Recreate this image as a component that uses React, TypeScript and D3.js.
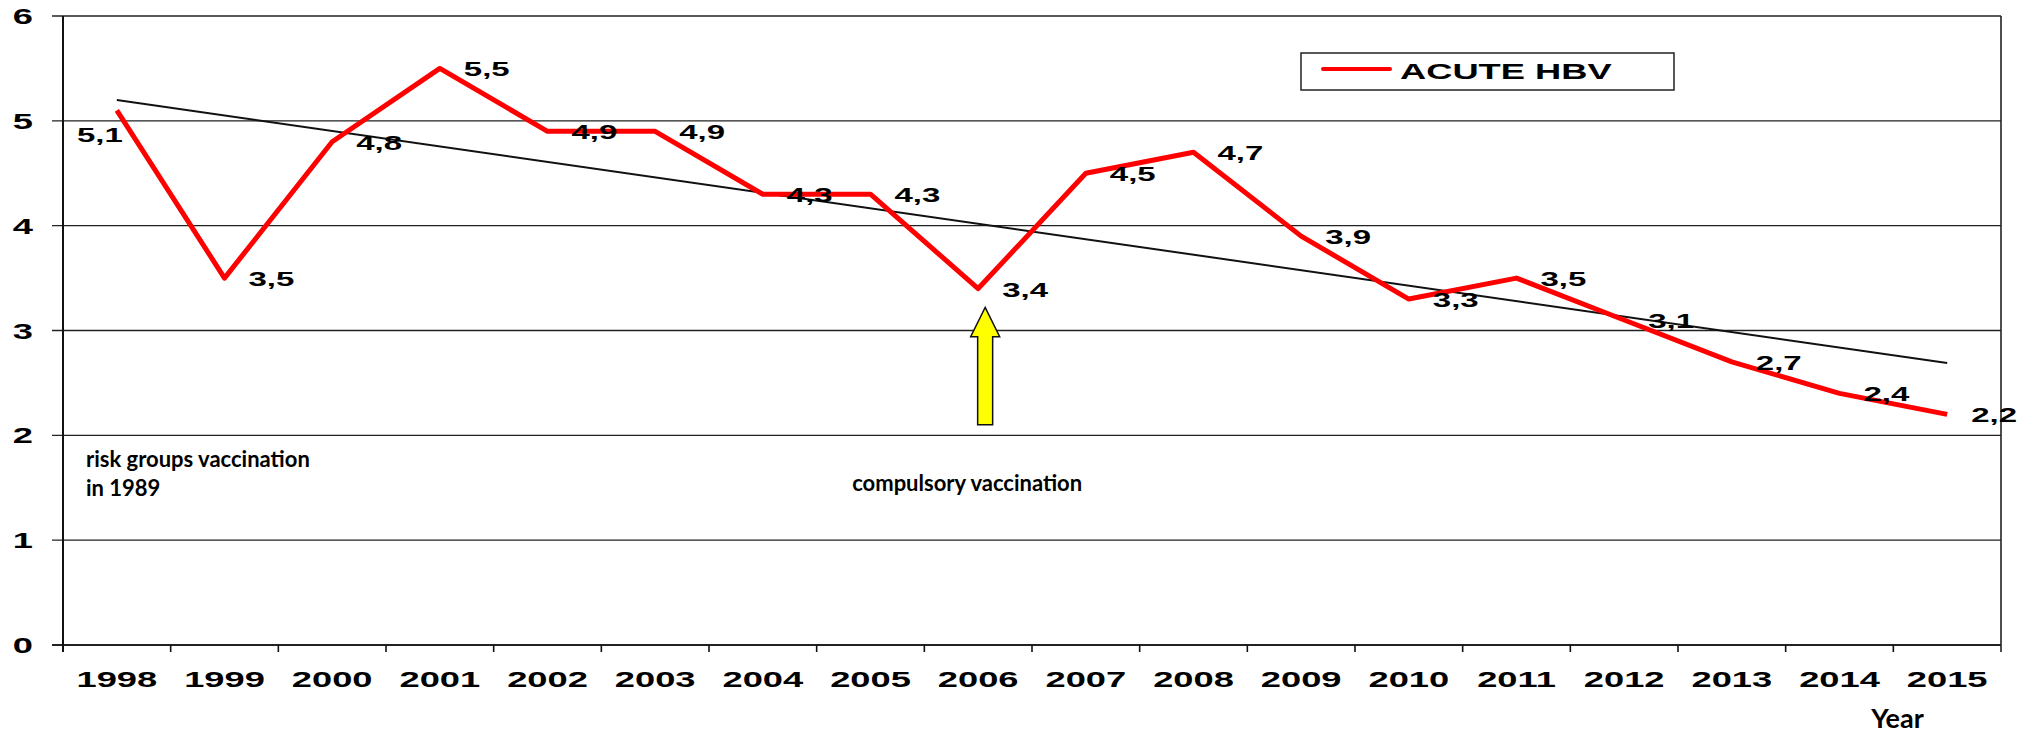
import { useEffect, useRef } from "react";
import * as d3 from "d3";

const years = ["1998", "1999", "2000", "2001", "2002", "2003", "2004", "2005", "2006", "2007", "2008", "2009", "2010", "2011", "2012", "2013", "2014", "2015"];
const acuteHbv = [5.1, 3.5, 4.8, 5.5, 4.9, 4.9, 4.3, 4.3, 3.4, 4.5, 4.7, 3.9, 3.3, 3.5, 3.1, 2.7, 2.4, 2.2];
const yTicks = [0, 1, 2, 3, 4, 5, 6];
const seriesName = "ACUTE HBV";
const riskNote = ["risk groups vaccination", "in 1989"];
const compulsoryNote = "compulsory vaccination";
const compulsoryYear = "2006";

const ARIAL = "'Liberation Sans', Arial, sans-serif";
const CALIBRI = "Lato, 'Open Sans', sans-serif";
const SX = 1.65; // the original picture is stretched sideways

export default function App() {
  const ref = useRef<SVGSVGElement>(null);

  useEffect(() => {
    document.body.style.margin = "0";
    if (!ref.current) return;
    const svg = d3.select(ref.current);
    svg.selectAll("*").remove();
    const w = 2040;
    const h = 736;
    const m = { t: 16, r: 39, b: 91, l: 63 };

    const x = d3.scaleBand<string>().domain(years).range([m.l, w - m.r]).padding(0);
    const y = d3.scaleLinear().domain([0, 6]).range([h - m.b, m.t]);
    const cx = (yr: string) => (x(yr) as number) + x.bandwidth() / 2;

    const wide = (sel: any, tx: (d: any, i: number) => number, ty: (d: any, i: number) => number) =>
      sel.attr("transform", (d: any, i: number) => `translate(${tx(d, i)},${ty(d, i)}) scale(${SX},1)`);

    // gridlines (incl. little ticks on the left)
    svg.append("g")
      .selectAll("line")
      .data(yTicks)
      .join("line")
      .attr("x1", m.l - 11).attr("x2", w - m.r)
      .attr("y1", (d) => y(d)).attr("y2", (d) => y(d))
      .attr("stroke", "#222").attr("stroke-width", (d) => (d === 0 ? 2 : 1.3));

    // y axis + right border
    svg.append("line")
      .attr("x1", m.l).attr("x2", m.l).attr("y1", y(6)).attr("y2", y(0) + 7)
      .attr("stroke", "#111").attr("stroke-width", 2);
    svg.append("line")
      .attr("x1", w - m.r).attr("x2", w - m.r).attr("y1", y(6)).attr("y2", y(0) + 7)
      .attr("stroke", "#222").attr("stroke-width", 1.6);

    // x ticks at category boundaries
    svg.append("g")
      .selectAll("line")
      .data(years.slice(1))
      .join("line")
      .attr("x1", (d) => x(d) as number).attr("x2", (d) => x(d) as number)
      .attr("y1", y(0)).attr("y2", y(0) + 7)
      .attr("stroke", "#111").attr("stroke-width", 1.6);

    // y tick labels
    wide(
      svg.append("g").selectAll("text").data(yTicks).join("text"),
      () => 33,
      (d) => y(d) + 8
    )
      .attr("text-anchor", "end")
      .attr("font-family", ARIAL).attr("font-weight", "bold").attr("font-size", 22)
      .text((d: number) => d);

    // x tick labels
    wide(
      svg.append("g").selectAll("text").data(years).join("text"),
      (d) => cx(d),
      () => y(0) + 42
    )
      .attr("text-anchor", "middle")
      .attr("font-family", ARIAL).attr("font-weight", "bold").attr("font-size", 22)
      .text((d: string) => d);

    svg.append("text")
      .attr("x", cx("2014") + 58).attr("y", h - 8)
      .attr("text-anchor", "middle")
      .attr("font-family", CALIBRI).attr("font-weight", "bold").attr("font-size", 27)
      .text("Year");

    // trend line (least squares over the series)
    const xi = acuteHbv.map((_, i) => i);
    const mx = d3.mean(xi) as number;
    const my = d3.mean(acuteHbv) as number;
    const slope = d3.sum(xi, (i) => (i - mx) * (acuteHbv[i] - my)) / d3.sum(xi, (i) => (i - mx) ** 2);
    const icpt = my - slope * mx;
    const trend = [0, years.length - 1].map((i) => ({ yr: years[i], v: icpt + slope * i }));
    svg.append("path")
      .datum(trend)
      .attr("fill", "none").attr("stroke", "#111").attr("stroke-width", 2)
      .attr("d", d3.line<{ yr: string; v: number }>().x((d) => cx(d.yr)).y((d) => y(d.v)) as any);

    // series
    const pts = years.map((yr, i) => ({ yr, v: acuteHbv[i] }));
    svg.append("path")
      .datum(pts)
      .attr("fill", "none").attr("stroke", "#ff0000").attr("stroke-width", 5)
      .attr("stroke-linejoin", "round")
      .attr("d", d3.line<{ yr: string; v: number }>().x((d) => cx(d.yr)).y((d) => y(d.v)) as any);

    // value labels
    wide(
      svg.append("g").selectAll("text").data(pts).join("text"),
      (d, i) => (i === 0 ? cx(d.yr) + 6 : cx(d.yr) + 24),
      (d, i) => (i === 0 ? y(d.v) + 32 : y(d.v) + 8)
    )
      .attr("text-anchor", (_: any, i: number) => (i === 0 ? "end" : "start"))
      .attr("font-family", ARIAL).attr("font-weight", "bold").attr("font-size", 20)
      .text((d: { v: number }) => String(d.v).replace(".", ","));

    // arrow for compulsory vaccination
    const ax = cx(compulsoryYear) + 7;
    const arrow = d3.path();
    arrow.moveTo(ax, y(3.22));
    arrow.lineTo(ax + 14.5, y(2.94));
    arrow.lineTo(ax + 7.5, y(2.94));
    arrow.lineTo(ax + 7.5, y(2.1));
    arrow.lineTo(ax - 7.5, y(2.1));
    arrow.lineTo(ax - 7.5, y(2.94));
    arrow.lineTo(ax - 14.5, y(2.94));
    arrow.closePath();
    svg.append("path")
      .attr("d", arrow.toString())
      .attr("fill", "#ffff00").attr("stroke", "#111").attr("stroke-width", 1.5);

    // notes
    svg.append("g")
      .selectAll("text")
      .data(riskNote)
      .join("text")
      .attr("x", m.l + 23).attr("y", (_, i) => 467 + i * 29)
      .attr("font-family", CALIBRI).attr("font-weight", "bold").attr("font-size", 22)
      .text((d) => d);
    svg.append("text")
      .attr("x", cx(compulsoryYear) - 126).attr("y", 491)
      .attr("font-family", CALIBRI).attr("font-weight", "bold").attr("font-size", 22)
      .text(compulsoryNote);

    // legend
    const lg = svg.append("g").attr("transform", "translate(1301,53)");
    lg.append("rect")
      .attr("width", 373).attr("height", 37)
      .attr("fill", "white").attr("stroke", "#222").attr("stroke-width", 1.5);
    lg.append("line")
      .attr("x1", 22).attr("x2", 89).attr("y1", 16).attr("y2", 16)
      .attr("stroke", "#ff0000").attr("stroke-width", 4).attr("stroke-linecap", "round");
    wide(lg.append("text"), () => 99, () => 26)
      .attr("font-family", ARIAL).attr("font-weight", "bold").attr("font-size", 22)
      .text(seriesName);
  }, []);

  return <svg ref={ref} width={2040} height={736} style={{ display: "block", background: "white" }} />;
}
